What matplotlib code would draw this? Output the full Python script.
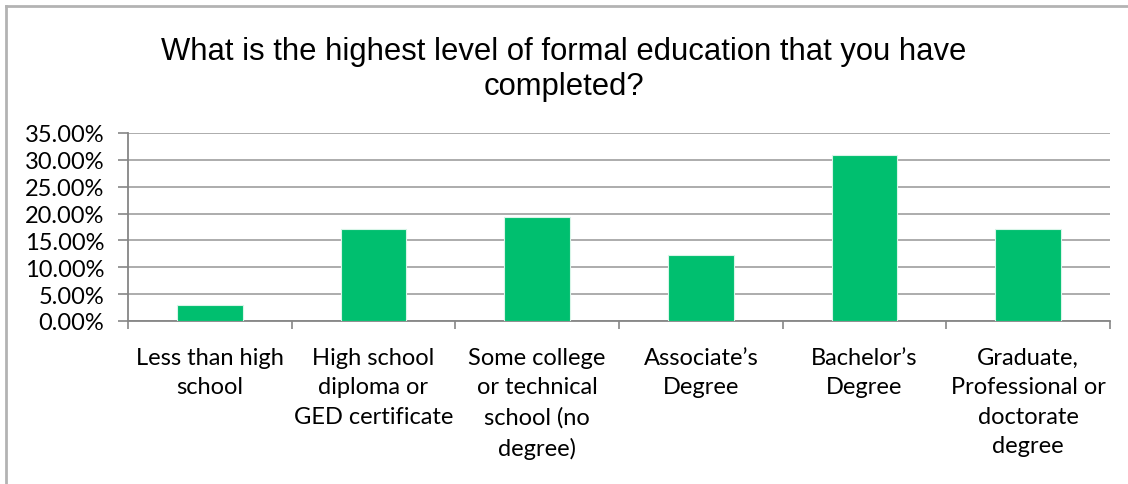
import matplotlib
matplotlib.use('Agg')

import matplotlib.pyplot as plt
from matplotlib.lines import Line2D
from matplotlib.ticker import FuncFormatter, MultipleLocator

# Data
categories = [
    "Less than high\nschool",
    "High school\ndiploma or\nGED certificate",
    "Some college\nor technical\nschool (no\ndegree)",
    "Associate\u2019s\nDegree",
    "Bachelor\u2019s\nDegree",
    "Graduate,\nProfessional or\ndoctorate\ndegree",
]
shares = [0.029, 0.171, 0.194, 0.122, 0.309, 0.171]

title = "What is the highest level of formal education that you have\ncompleted?"

W, H = 1128, 485
fig = plt.figure(figsize=(W / 100, H / 100), dpi=100)
ax = fig.add_axes([128 / W, 1 - 322 / H, (1110 - 128) / W, (322 - 134) / H])

axis_grey = '#868686'
grid_grey = '#a6a6a6'

x = list(range(len(categories)))
ax.bar(x, shares, width=0.4, color='#00bf6f', edgecolor='#d8f5e8',
       linewidth=0.8, zorder=3)

ax.set_xlim(-0.5, len(categories) - 0.5)
ax.set_ylim(0, 0.35)
ax.yaxis.set_major_locator(MultipleLocator(0.05))
ax.yaxis.set_major_formatter(FuncFormatter(lambda v, p: f"{v * 100:.2f}%"))
ax.grid(axis='y', color=grid_grey, linewidth=1.3, zorder=0)
ax.set_axisbelow(True)

# category labels centred, ticks on category boundaries
ax.set_xticks(x)
ax.set_xticklabels(categories, fontsize=17, family='Lato', linespacing=1.5,
                   va='top')
ax.set_xticks([i - 0.5 for i in range(len(categories) + 1)], minor=True)
ax.tick_params(axis='x', which='major', length=0, pad=18.5)
ax.tick_params(axis='x', which='minor', length=6, color=axis_grey, width=1.2)
ax.tick_params(axis='y', length=7, color=axis_grey, width=1.2, pad=10,
               labelsize=17)
for lab in ax.get_yticklabels():
    lab.set_family('Lato')

for s in ['top', 'right']:
    ax.spines[s].set_visible(False)
for s in ['left', 'bottom']:
    ax.spines[s].set_color(axis_grey)
    ax.spines[s].set_linewidth(1.3)

fig.text(0.5, 1 - 69.5 / H, title, ha='center', va='center', fontsize=22.3,
         family='Liberation Sans', linespacing=1.25)

# chart frame (top and left edges visible)
fig.add_artist(Line2D([6 / W, 1], [1 - 6.5 / H, 1 - 6.5 / H],
                      transform=fig.transFigure, color='#b3b3b3', linewidth=2))
fig.add_artist(Line2D([6 / W, 6 / W], [0, 1 - 6.5 / H],
                      transform=fig.transFigure, color='#b3b3b3', linewidth=2))

fig.savefig('out.png', dpi=100)
